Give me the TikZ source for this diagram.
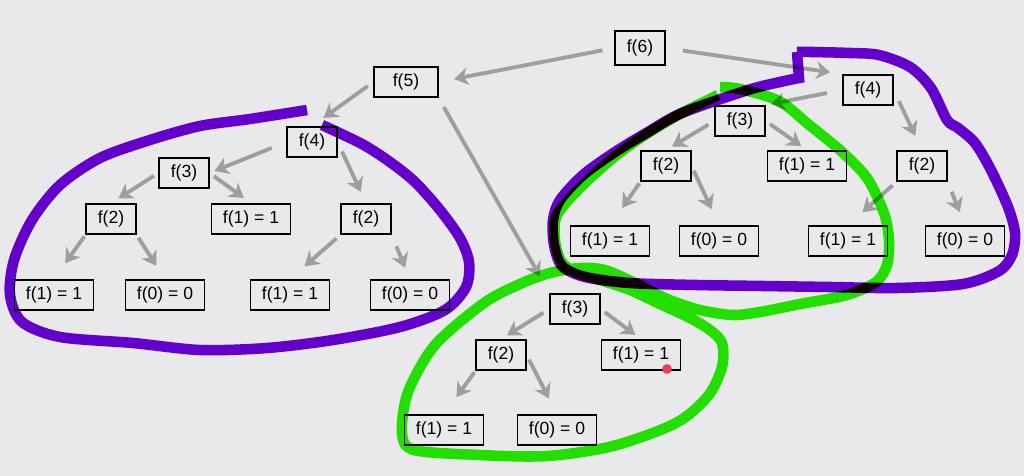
\documentclass[tikz,border=0pt]{standalone}
\usepackage{fontspec}
\setmainfont{Liberation Sans}
\usetikzlibrary{arrows.meta}

\definecolor{bggray}{RGB}{233,233,236}
\definecolor{arrgray}{RGB}{158,158,158}
\definecolor{scribviolet}{RGB}{110,0,220}
\definecolor{scribgreen}{RGB}{38,245,0}
\definecolor{dotred}{RGB}{236,64,88}

\tikzset{
  box/.style={draw, line width=1.1pt, inner xsep=6.5pt, inner ysep=0pt, minimum height=17pt, font=\fontsize{10}{12}\selectfont},
  arr/.style={draw=arrgray, line width=2.2pt, -{Stealth[length=8pt,width=10pt,inset=2.5pt]}},
  scribble/.style={line width=6pt, line join=round, line cap=butt}
}

\begin{document}
\begin{tikzpicture}[x=0.02cm, y=-0.02cm]
    \useasboundingbox (0,0) rectangle (1024,476);
    \fill [bggray] (0,0) rectangle (1024,476);

    \node [box, minimum height=19pt] (f6) at (640, 48) {f(6)};
    \node [box, minimum width=36pt] (f5) at (406, 82) {f(5)};

    % left half, below f(5)
    \node [box] (f4l) at (312, 142) {f(4)};
    \node [box] (f3l) at (184, 173) {f(3)};
    \node [box] (f2l) at (111, 219) {f(2)};
    \node [box] (f1l) at (251, 219) {f(1) = 1};
    \node [box] (f2m) at (366, 219) {f(2)};
    \node [box] (l1) at (54, 295) {f(1) = 1};
    \node [box] (l2) at (165, 295) {f(0) = 0};
    \node [box] (l3) at (290, 295) {f(1) = 1};
    \node [box] (l4) at (410, 295) {f(0) = 0};

    % right half, below f(6)
    \node [box] (f4r) at (868, 90) {f(4)};
    \node [box] (f3r) at (740, 121) {f(3)};
    \node [box] (f2r) at (666, 166) {f(2)};
    \node [box] (f1r) at (807, 166) {f(1) = 1};
    \node [box] (f2s) at (922, 166) {f(2)};
    \node [box] (r1) at (610, 241) {f(1) = 1};
    \node [box] (r2) at (719, 241) {f(0) = 0};
    \node [box] (r3) at (848, 241) {f(1) = 1};
    \node [box] (r4) at (965, 241) {f(0) = 0};

    % f(3) below f(5)
    \node [box] (f3b) at (575, 309) {f(3)};
    \node [box] (f2b) at (501, 355) {f(2)};
    \node [box] (f1b) at (641, 355) {f(1) = 1};
    \node [box] (b1) at (444, 430) {f(1) = 1};
    \node [box] (b2) at (557, 430) {f(0) = 0};

    \draw [arr, shorten <=7pt, shorten >=9pt] (f6.west) -- (f5.east);
    \draw [arr, shorten <=10pt, shorten >=7pt] (f6.east) -- (f4r.north west);
    \draw [arr, shorten <=4pt, shorten >=8pt] (f5.west) -- (f4l.north);
    \draw [arr, shorten <=6pt, shorten >=11pt] (f5.south east) -- (f3b.north west);

    \draw [arr, shorten <=9pt, shorten >=3pt] (f4l.west) -- (f3l.east);
    \draw [arr, shorten <=6pt, shorten >=7pt] (f4l.east) -- (f2m.north);
    \draw [arr, shorten <=3pt, shorten >=5pt] (f3l.west) -- (f2l.north);
    \draw [arr, shorten <=3pt, shorten >=5pt] (f3l.east) -- (f1l.north);
    \draw [arr, shorten <=1pt, shorten >=11pt] (f2l.south west) -- (l1.north);
    \draw [arr, shorten <=2pt, shorten >=9pt] (f2l.south east) -- (l2.north);
    \draw [arr, shorten <=3pt, shorten >=11pt] (f2m.south west) -- (l3.north);
    \draw [arr, shorten <=7pt, shorten >=7pt] (f2m.south east) -- (l4.north);

    \draw [arr, shorten <=9pt, shorten >=3pt] (f4r.west) -- (f3r.north east);
    \draw [arr, shorten <=7pt, shorten >=9pt] (f4r.east) -- (f2s.north);
    \draw [arr, shorten <=4pt, shorten >=4pt] (f3r.west) -- (f2r.north);
    \draw [arr, shorten <=3pt, shorten >=4pt] (f3r.east) -- (f1r.north);
    \draw [arr, shorten <=1pt, shorten >=12pt] (f2r.south west) -- (r1.north);
    \draw [arr, shorten <=3pt, shorten >=10pt] (f2r.east) -- (r2.north);
    \draw [arr, shorten <=3pt, shorten >=11pt] (f2s.south west) -- (r3.north);
    \draw [arr, shorten <=6pt, shorten >=8pt] (f2s.south east) -- (r4.north);

    \draw [arr, shorten <=4pt, shorten >=4pt] (f3b.west) -- (f2b.north);
    \draw [arr, shorten <=3pt, shorten >=4pt] (f3b.east) -- (f1b.north);
    \draw [arr, shorten <=1pt, shorten >=12pt] (f2b.south west) -- (b1.north);
    \draw [arr, shorten <=3pt, shorten >=10pt] (f2b.east) -- (b2.north);

    \fill [dotred] (667, 369) circle (2.8pt);

    % hand drawn rings
    \begin{scope}[blend mode=multiply]
      \draw [scribble, scribgreen] plot [smooth] coordinates {(720,87) (740,89) (779,101) (808,124) (841,151) (867,178) (884,213) (889,240) (887,265) (876,282) (847,295) (800,304) (760,312) (733,315) (700,310) (667,299) (635,283) (605,270) (580,268) (550,273) (520,284) (484,303) (435,345) (408,392) (402,433) (414,450) (480,455) (547,456) (613,446) (676,423) (708,396) (722,367) (722,343) (710,330) (690,318) (660,304) (630,290) (600,280) (575,272) (561,261) (555,240) (557,215) (580,188) (613,158) (645,135) (680,114) (712,98) (718,95)};
      \draw [scribble, scribviolet] plot [smooth] coordinates {(307,110) (250,119) (200,126) (150,140) (100,158) (60,185) (32,220) (14,260) (10,295) (22,322) (60,337) (133,343) (200,350) (267,348) (333,340) (400,327) (445,310) (466,287) (469,262) (460,238) (440,210) (415,182) (390,162) (362,144) (322,125)};
      \draw [scribble, scribviolet, line join=miter] plot [smooth] coordinates {(797,52) (812,52) (850,53) (879,55) (910,67) (931,88) (947,120) (958,128) (975,143) (991,170) (1008,207) (1015,233) (1012,255) (999,271) (963,284) (897,288) (830,287) (763,286) (697,285) (630,283) (585,277) (562,266) (554,245) (553,220) (560,200) (583,175) (615,152) (648,132) (682,113) (748,90) (780,82) (799,78)} -- (797,52);
    \end{scope}
\end{tikzpicture}
\end{document}
